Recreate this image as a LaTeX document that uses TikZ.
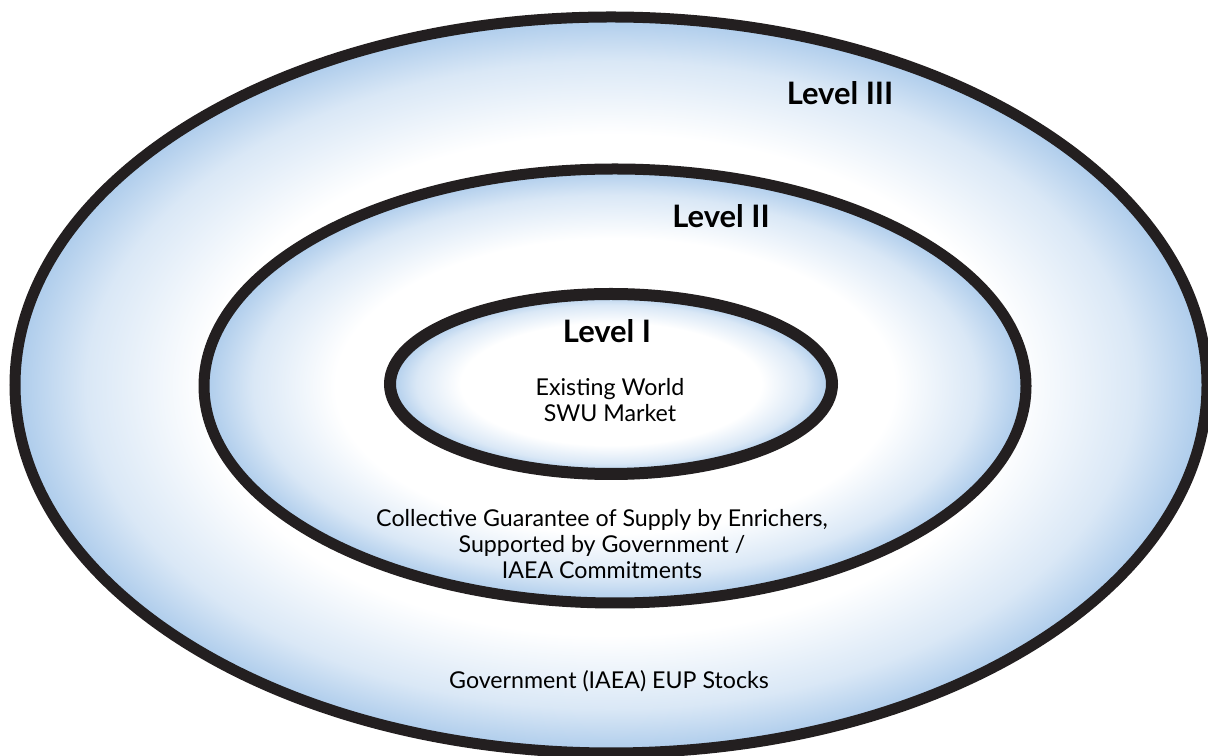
\documentclass[tikz,border=0pt]{standalone}
\usepackage{fontspec}
\setmainfont{Lato}
\definecolor{ringblue}{RGB}{172,203,235}
\definecolor{ringblack}{RGB}{35,31,32}
% white core, blue only near the rim (25bp = rim of the path)
\pgfdeclareradialshading{ringglow}{\pgfpoint{0bp}{0bp}}{color(0bp)=(white); color(17bp)=(white); color(22bp)=(ringblue!45); color(25bp)=(ringblue); color(50bp)=(ringblue)}
\begin{document}
\begin{tikzpicture}[x=.025cm,y=.025cm,
		ring/.style={shade,shading=ringglow,draw=ringblack,line width=.275cm},
		level/.style={font=\bfseries\fontsize{22}{26}\selectfont},
		note/.style={font=\fontsize{16.5}{18.6}\selectfont,align=center}]
			\useasboundingbox (0,0) rectangle (1208,755);
			\path 
			(611,370) coordinate (O3)
			(615,369) coordinate (O2)
			(611,371) coordinate (O1);
			% rings, outer one first
			\path[ring] (O3) ellipse [x radius=596,y radius=368];
			\path[ring] (O2) ellipse [x radius=411,y radius=217];
			\path[ring,line width=.3cm] (O1) ellipse [x radius=221,y radius=90];
			% labels
			\node[level] (lvl3) at (840,662) {Level III};
			\node[level] (lvl2) at (721,539) {Level II};
			\node[level] (lvl1) at (607,424) {Level I};
			\node[note] (market) at (610,355) {Existing World\\SWU Market};
			\node[note] (guarantee) at (602,211) {Collective Guarantee of Supply by Enrichers,\\Supported by Government /\\IAEA Commitments};
			\node[note] (stocks) at (609,74) {Government (IAEA) EUP Stocks};
		\end{tikzpicture}
\end{document}
